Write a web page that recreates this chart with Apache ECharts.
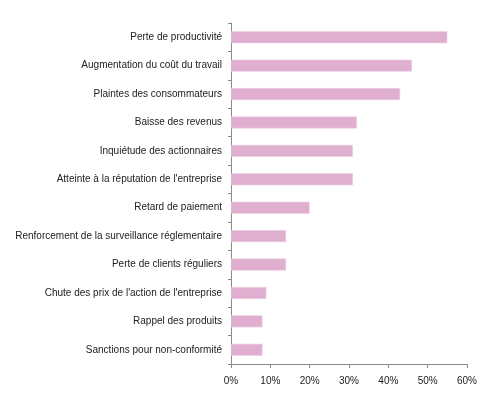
<!DOCTYPE html>
<html>
<head>
<meta charset="utf-8">
<script src="https://cdn.jsdelivr.net/npm/echarts@6/dist/echarts.min.js"></script>
<style>
  html, body { margin: 0; padding: 0; background: #fff; }
  #main { width: 500px; height: 400px; }
</style>
</head>
<body>
<div id="main"></div>
<script>
// catégories (de haut en bas)
var categories = [
  'Perte de productivité',
  'Augmentation du coût du travail',
  'Plaintes des consommateurs',
  'Baisse des revenus',
  'Inquiétude des actionnaires',
  'Atteinte à la réputation de l\'entreprise',
  'Retard de paiement',
  'Renforcement de la surveillance réglementaire',
  'Perte de clients réguliers',
  'Chute des prix de l\'action de l\'entreprise',
  'Rappel des produits',
  'Sanctions pour non-conformité'
];

// valeurs en %
var values = [55, 46, 43, 32, 31, 31, 20, 14, 14, 9, 8, 8];

// graduations de l'axe x
var xMin = 0;
var xMax = 60;
var xStep = 10;

var chart = echarts.init(document.getElementById('main'));

var option = {
  animation: false,
  backgroundColor: '#ffffff',
  grid: {
    left: 231,
    right: 33,
    top: 23,
    bottom: 36,
    containLabel: false
  },
  xAxis: {
    type: 'value',
    min: xMin,
    max: xMax,
    interval: xStep,
    axisLine: { show: true, lineStyle: { color: '#8a8a8a', width: 1 } },
    axisTick: { show: true, length: 4, lineStyle: { color: '#8a8a8a' } },
    splitLine: { show: false },
    axisLabel: {
      formatter: '{value}%',
      color: '#222',
      fontFamily: 'Liberation Sans',
      fontSize: 10,
      margin: 12
    }
  },
  yAxis: {
    type: 'category',
    data: categories,
    inverse: true,
    axisLine: { show: true, lineStyle: { color: '#8a8a8a', width: 1 } },
    axisTick: { show: true, length: 3, lineStyle: { color: '#8a8a8a' } },
    axisLabel: {
      color: '#222',
      fontFamily: 'Liberation Sans',
      fontSize: 10,
      margin: 9
    }
  },
  series: [{
    type: 'bar',
    data: values,
    barWidth: 12,
    itemStyle: {
      color: '#e0afcf',
      borderColor: '#ecd0e2',
      borderWidth: 0.6
    }
  }]
};

chart.setOption(option);
</script>
</body>
</html>
